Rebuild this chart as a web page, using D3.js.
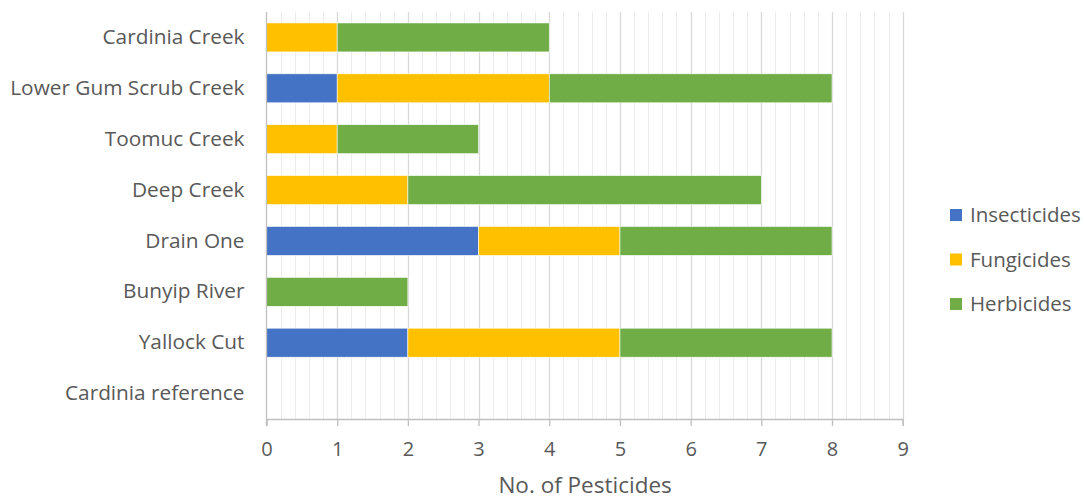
<!DOCTYPE html>
<html>
<head>
<meta charset="utf-8">
<script src="https://cdn.jsdelivr.net/npm/d3@7"></script>
<style>
  body { margin: 0; background: #fff; }
  svg { display: block; }
  text { font-family: "Open Sans", "Noto Sans", sans-serif; fill: #595959; }
</style>
</head>
<body>
<svg id="chart" width="1084" height="501"></svg>
<script>
// Pesticide counts per site, split by pesticide class
const sites = ["Cardinia Creek", "Lower Gum Scrub Creek", "Toomuc Creek", "Deep Creek",
               "Drain One", "Bunyip River", "Yallock Cut", "Cardinia reference"];
const insecticides = [0, 1, 0, 0, 3, 0, 2, 0];
const fungicides   = [1, 3, 1, 2, 2, 0, 3, 0];
const herbicides   = [3, 4, 2, 5, 3, 2, 3, 0];
const seriesNames  = ["Insecticides", "Fungicides", "Herbicides"];
const seriesColors = ["#4472C4", "#FFC000", "#70AD47"];
const xTicks = [0, 1, 2, 3, 4, 5, 6, 7, 8, 9];
const xTitle = "No. of Pesticides";

const rows = sites.map((s, i) => ({
  site: s,
  Insecticides: insecticides[i],
  Fungicides: fungicides[i],
  Herbicides: herbicides[i]
}));

const svg = d3.select("#chart");
const m = { left: 266.5, right: 902.7, top: 12, bottom: 419 };

const x = d3.scaleLinear().domain([0, 9]).range([m.left, m.right]);
const y = d3.scaleBand().domain(sites).range([m.top, m.bottom]).paddingInner(0.43).paddingOuter(0.215);

// minor gridlines every 0.2
const minor = d3.range(0, 9.0001, 0.2).filter(v => Math.abs(v - Math.round(v)) > 1e-6);
svg.append("g").selectAll("line").data(minor).join("line")
  .attr("x1", d => Math.round(x(d)) + 0.5).attr("x2", d => Math.round(x(d)) + 0.5)
  .attr("y1", m.top).attr("y2", m.bottom)
  .attr("stroke", "#ececec").attr("stroke-width", 1);

// major gridlines
svg.append("g").selectAll("line").data(xTicks.slice(1)).join("line")
  .attr("x1", d => Math.round(x(d)) + 0.5).attr("x2", d => Math.round(x(d)) + 0.5)
  .attr("y1", m.top).attr("y2", m.bottom)
  .attr("stroke", "#d9d9d9").attr("stroke-width", 1.3);

// stacked bars
const stack = d3.stack().keys(seriesNames)(rows);
svg.append("g").selectAll("g").data(stack).join("g")
  .attr("fill", (d, i) => seriesColors[i])
  .selectAll("rect").data(d => d.filter(p => p[1] > p[0])).join("rect")
  .attr("x", d => x(d[0]))
  .attr("width", d => x(d[1]) - x(d[0]))
  .attr("y", d => y(d.data.site))
  .attr("height", y.bandwidth())
  .attr("stroke", "#ffffff").attr("stroke-width", 0.6);

// x axis
const xAxis = d3.axisBottom(x).tickValues(xTicks).tickSize(7).tickPadding(16).tickFormat(d3.format("d"));
const gx = svg.append("g").attr("transform", `translate(0,${m.bottom})`).call(xAxis);
gx.select(".domain").attr("stroke", "#bfbfbf").attr("stroke-width", 1.3);
gx.selectAll(".tick line").attr("stroke", "#bfbfbf").attr("stroke-width", 1.3);
gx.selectAll(".tick text").style("font-size", "20px").attr("fill", "#595959");

// y axis line
svg.append("line")
  .attr("x1", m.left).attr("x2", m.left)
  .attr("y1", m.top).attr("y2", m.bottom + 7)
  .attr("stroke", "#bfbfbf").attr("stroke-width", 1.3);

// category labels
const yAxis = d3.axisLeft(y).tickSize(0).tickPadding(22);
const gy = svg.append("g").attr("transform", `translate(${m.left},0)`).call(yAxis);
gy.select(".domain").remove();
gy.selectAll(".tick text").style("font-size", "20.8px").attr("fill", "#595959");

// axis title
svg.append("text")
  .attr("x", (m.left + m.right) / 2 + 0.5)
  .attr("y", 493)
  .attr("text-anchor", "middle")
  .style("font-size", "22.5px")
  .text(xTitle);

// legend
const legend = svg.append("g").selectAll("g").data(seriesNames).join("g")
  .attr("transform", (d, i) => `translate(950,${215 + i * 44.5})`);
legend.append("rect").attr("x", 0).attr("y", -6).attr("width", 12).attr("height", 12)
  .attr("fill", (d, i) => seriesColors[i]);
legend.append("text").attr("x", 20).attr("y", 0).attr("dy", "0.35em")
  .style("font-size", "20.5px").text(d => d);
</script>
</body>
</html>
